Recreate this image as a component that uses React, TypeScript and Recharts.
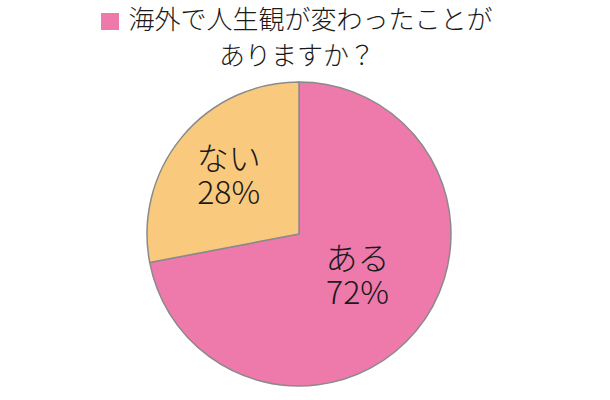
import { Pie, PieChart, Cell } from "recharts";

const ANSWERS = ["ある", "ない"];
const SHARES = [72, 28];
const COLORS = ["#EE79AB", "#F9C97E"];
const LABEL_RADIUS = [0.5, 0.6];
const LABEL_DY = [-6, 0];

const TITLE = ["海外で人生観が変わったことが", "ありますか？"];

const data = ANSWERS.map((name, i) => ({ name, value: SHARES[i] }));

const RAD = Math.PI / 180;
const FONT = "'Noto Sans CJK JP', sans-serif";

function SliceLabel(props: any) {
  const { cx, cy, midAngle, outerRadius, index, name, value } = props;
  const r = outerRadius * LABEL_RADIUS[index];
  const x = cx + r * Math.cos(-midAngle * RAD);
  const y = cy + r * Math.sin(-midAngle * RAD) + LABEL_DY[index];
  return (
    <text
      x={x}
      y={y}
      textAnchor="middle"
      fill="#1a1a1a"
      fontFamily={FONT}
      fontWeight={300}
      fontSize={32}
    >
      <tspan x={x} dy={-6}>
        {name}
      </tspan>
      <tspan x={x} dy={34}>
        {value}%
      </tspan>
    </text>
  );
}

export default function App() {
  return (
    <div
      style={{
        position: "absolute",
        left: 0,
        top: 0,
        width: 610,
        height: 400,
        background: "#fff",
      }}
    >
      <div
        style={{
          position: "absolute",
          left: 0,
          top: 0,
          width: 594,
          textAlign: "center",
          fontFamily: FONT,
          fontWeight: 300,
          fontSize: 26,
          lineHeight: "36px",
          color: "#1a1a1a",
        }}
      >
        <div>
          <span
            style={{
              display: "inline-block",
              width: 18,
              height: 17,
              background: COLORS[0],
              marginRight: 9,
              verticalAlign: "-1px",
            }}
          />
          {TITLE[0]}
        </div>
        <div>{TITLE[1]}</div>
      </div>
      <PieChart
        width={610}
        height={400}
        margin={{ top: 0, right: 0, bottom: 0, left: 0 }}
        style={{ position: "absolute", left: 0, top: 0 }}
      >
        <Pie
          data={data}
          dataKey="value"
          nameKey="name"
          cx={299}
          cy={234}
          outerRadius={152}
          startAngle={90}
          endAngle={-270}
          stroke="#8a8a8a"
          strokeWidth={1.5}
          label={SliceLabel}
          labelLine={false}
          isAnimationActive={false}
        >
          {data.map((d, i) => (
            <Cell key={d.name} fill={COLORS[i]} />
          ))}
        </Pie>
      </PieChart>
    </div>
  );
}
